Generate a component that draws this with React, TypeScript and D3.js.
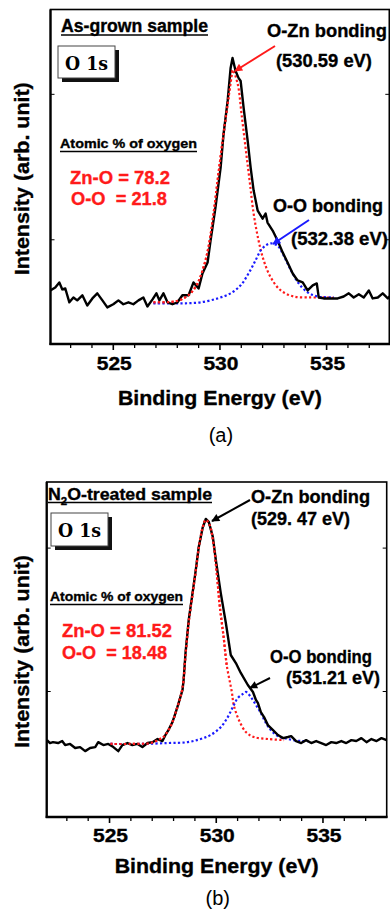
import React from 'react';
import * as d3 from 'd3';

// ---------- shared axis data ----------
const energyDomain: [number, number] = [522, 538];
const xMajorTicks = [525, 530, 535];
const xMinorTicks = [523, 524, 526, 527, 528, 529, 531, 532, 533, 534, 536, 537];
const xLabel = 'Binding Energy (eV)';
const yLabel = 'Intensity (arb. unit)';

// ---------- panel (a): as-grown ----------
const aMeasured: [number, number][] = [
  [522.05, 0.041], [522.28, 0.053], [522.47, 0.074], [522.61, 0.045], [522.75, 0.049],
  [522.94, -0.008], [523.13, 0.012], [523.31, 0.0], [523.55, 0.021], [523.78, -0.021],
  [524.02, 0.008], [524.25, 0.029], [524.49, 0.0], [524.72, -0.029], [525.0, -0.016],
  [525.24, 0.0], [525.47, -0.016], [525.71, -0.008], [525.94, -0.016], [526.18, 0.0],
  [526.41, 0.012], [526.6, -0.025], [526.84, 0.004], [527.02, 0.029], [527.16, 0.0],
  [527.35, 0.029], [527.54, -0.008], [527.77, -0.016], [528.01, -0.008], [528.24, 0.021],
  [528.53, 0.021], [528.76, 0.074], [529.0, 0.049], [529.18, 0.111], [529.42, 0.156],
  [529.56, 0.247], [529.79, 0.383], [530.03, 0.547], [530.17, 0.687], [530.36, 0.823],
  [530.5, 0.959], [530.59, 1.0], [530.73, 0.947], [530.87, 0.918], [530.97, 0.905],
  [531.11, 0.794], [531.3, 0.658], [531.44, 0.547], [531.58, 0.453], [531.77, 0.37],
  [532.0, 0.337], [532.14, 0.358], [532.23, 0.321], [532.47, 0.288], [532.7, 0.247],
  [532.94, 0.198], [533.17, 0.156], [533.41, 0.111], [533.64, 0.082], [533.88, 0.074],
  [534.11, 0.041], [534.35, 0.062], [534.54, 0.07], [534.63, 0.012], [534.86, 0.008],
  [535.19, 0.008], [535.52, 0.008], [535.8, 0.016], [536.04, 0.029], [536.27, 0.012],
  [536.51, 0.025], [536.74, 0.012], [536.98, 0.041], [537.16, 0.008], [537.4, 0.012],
  [537.63, 0.029], [537.87, 0.008], [538.0, 0.021],
];
const aZnOFit: [number, number][] = [
  [526.88, -0.008], [527.45, -0.008], [527.92, -0.004], [528.29, 0.008], [528.62, 0.029],
  [528.95, 0.07], [529.23, 0.136], [529.46, 0.218], [529.7, 0.358], [529.93, 0.523],
  [530.17, 0.687], [530.4, 0.835], [530.59, 0.95], [530.83, 0.893], [531.01, 0.77],
  [531.2, 0.63], [531.39, 0.494], [531.58, 0.358], [531.81, 0.247], [532.05, 0.165],
  [532.38, 0.095], [532.85, 0.041], [533.46, 0.016], [534.25, 0.012], [534.85, 0.012],
  [535.33, 0.01],
];
const aOOFit: [number, number][] = [
  [526.88, -0.012], [527.68, -0.012], [528.38, -0.012], [529.09, -0.008], [529.89, 0.008],
  [530.5, 0.029], [530.97, 0.062], [531.34, 0.111], [531.67, 0.165], [531.91, 0.206],
  [532.14, 0.226], [532.38, 0.235], [532.7, 0.226], [532.94, 0.193], [533.17, 0.152],
  [533.41, 0.111], [533.69, 0.07], [534.11, 0.033], [534.58, 0.016], [535.33, 0.012],
];
const aYTicks = [0.25, 0.85];

// ---------- panel (b): N2O-treated ----------
const bMeasured: [number, number][] = [
  [522.07, 0.013], [522.21, 0.0], [522.35, 0.004], [522.59, 0.0], [522.78, 0.009],
  [522.92, -0.009], [523.15, -0.004], [523.39, -0.022], [523.62, -0.018], [523.86, -0.036],
  [524.09, -0.022], [524.33, -0.018], [524.47, 0.004], [524.71, -0.009], [524.94, -0.004],
  [525.18, -0.018], [525.41, -0.036], [525.6, -0.009], [525.84, 0.0], [526.07, -0.009],
  [526.31, -0.004], [526.54, -0.018], [526.78, 0.0], [527.01, 0.004], [527.25, 0.018],
  [527.48, 0.009], [527.62, 0.036], [527.76, 0.058], [527.95, 0.094], [528.09, 0.134],
  [528.24, 0.179], [528.42, 0.237], [528.47, 0.281], [528.56, 0.402], [528.71, 0.549],
  [528.89, 0.67], [529.04, 0.772], [529.18, 0.875], [529.36, 0.96], [529.51, 1.0],
  [529.65, 0.987], [529.84, 0.92], [529.98, 0.817], [530.21, 0.67], [530.45, 0.536],
  [530.68, 0.393], [530.92, 0.357], [531.15, 0.313], [531.48, 0.259], [531.72, 0.228],
  [531.86, 0.192], [531.95, 0.179], [532.09, 0.138], [532.24, 0.116], [532.42, 0.08],
  [532.66, 0.058], [532.89, 0.036], [533.13, 0.022], [533.36, 0.027], [533.51, 0.031],
  [533.74, 0.009], [533.98, 0.0], [534.21, 0.013], [534.45, 0.0], [534.68, 0.009],
  [534.92, 0.0], [535.15, -0.009], [535.39, 0.004], [535.62, 0.0], [535.86, 0.009],
  [536.09, 0.0], [536.33, 0.013], [536.56, 0.009], [536.8, 0.022], [537.04, 0.004],
  [537.27, 0.018], [537.51, 0.009], [537.74, 0.022], [537.98, 0.013],
];
const bZnOFit: [number, number][] = [
  [525.04, -0.004], [525.98, -0.004], [526.92, 0.0], [527.25, 0.013], [527.53, 0.027],
  [527.76, 0.058], [527.95, 0.094], [528.09, 0.134], [528.24, 0.179], [528.42, 0.246],
  [528.56, 0.393], [528.71, 0.54], [528.89, 0.665], [529.04, 0.768], [529.18, 0.871],
  [529.36, 0.96], [529.51, 0.996], [529.69, 0.973], [529.88, 0.884], [530.02, 0.763],
  [530.16, 0.616], [530.35, 0.469], [530.49, 0.348], [530.73, 0.228], [530.82, 0.17],
  [531.06, 0.103], [531.39, 0.049], [531.76, 0.027], [532.42, 0.018], [533.18, 0.013],
];
const bOOFit: [number, number][] = [
  [525.04, -0.004], [526.45, -0.004], [527.72, 0.0], [528.66, 0.004], [529.27, 0.018],
  [529.74, 0.036], [530.21, 0.071], [530.54, 0.116], [530.78, 0.161], [531.01, 0.201],
  [531.25, 0.219], [531.39, 0.228], [531.62, 0.205], [531.86, 0.17], [532.09, 0.134],
  [532.33, 0.089], [532.56, 0.058], [532.89, 0.031], [533.36, 0.018], [533.98, 0.009],
  [534.31, 0.009],
];
const bYTicks = [0.23, 0.87];

const SANS = '"Liberation Sans", Arial, Helvetica, sans-serif';
const SERIF = '"DejaVu Serif", "Liberation Serif", serif';

type Txt = {
  t: string; x: number; y: number; size: number; len?: number; fill?: string;
  weight?: string; anchor?: 'start' | 'middle' | 'end'; under?: number; font?: string;
};

function Label({ t, x, y, size, len, fill = '#000', weight = 'bold', anchor = 'start', under, font = SANS }: Txt) {
  return (
    <g>
      <text x={x} y={y} fontSize={size} fontFamily={font} fontWeight={weight} fill={fill}
        stroke={fill} strokeWidth={0.35}
        textAnchor={anchor} textLength={len} lengthAdjust={len ? 'spacingAndGlyphs' : undefined}
        style={{ whiteSpace: 'pre' }}>{t}</text>
      {under !== undefined && len ? (
        <line x1={anchor === 'middle' ? x - len / 2 : x} x2={anchor === 'middle' ? x + len / 2 : x + len}
          y1={under} y2={under} stroke={fill} strokeWidth={1.7} />
      ) : null}
    </g>
  );
}

type PanelProps = {
  id: string;
  measured: [number, number][];
  fit1: [number, number][];
  fit2: [number, number][];
  xRange: [number, number];
  yDomain: [number, number];
  frame: { l: number; r: number; t: number; b: number };
  yTicks: number[];
  tickLabelY: number;
  xLabelY: number;
  yLabelX: number;
  letter: string;
  letterY: number;
  header: React.ReactNode;
  box: { x: number; y: number; w: number; h: number; ty: number };
  texts: Txt[];
  arrows: { x1: number; y1: number; x2: number; y2: number; color: string }[];
};

function Panel(p: PanelProps) {
  const x = d3.scaleLinear().domain(energyDomain).range(p.xRange);
  const y = d3.scaleLinear().domain(p.yDomain).range([p.frame.b, p.frame.t]);
  const line = d3.line<[number, number]>().x((d) => x(d[0])).y((d) => y(d[1]));
  const smooth = d3.line<[number, number]>().x((d) => x(d[0])).y((d) => y(d[1])).curve(d3.curveCatmullRom.alpha(0.5));
  const { l, r, t, b } = p.frame;
  const cx = (l + r) / 2;
  const cy = (t + b) / 2;
  const clipId = `clip-${p.id}`;
  return (
    <g>
      <defs>
        <clipPath id={clipId}><rect x={l} y={t} width={r - l} height={b - t} /></clipPath>
        {['#ff1a1a', '#1a1aff', '#000'].map((c, i) => (
          <marker key={c} id={`ah-${p.id}-${i}`} viewBox="0 0 10 10" refX={9} refY={5}
            markerWidth={9} markerHeight={8} markerUnits="userSpaceOnUse" orient="auto">
            <path d="M0,0 L10,5 L0,10 z" fill={c} />
          </marker>
        ))}
      </defs>
      <g clipPath={`url(#${clipId})`}>
        <path d={smooth(p.fit1) || ''} fill="none" stroke="#ff1a1a" strokeWidth={2.2} strokeDasharray="2.2 2.3" />
        <path d={smooth(p.fit2) || ''} fill="none" stroke="#1a1aff" strokeWidth={2.2} strokeDasharray="2.2 2.3" />
        <path d={line(p.measured) || ''} fill="none" stroke="#000" strokeWidth={2.4} strokeLinejoin="round" />
        <path d={smooth(p.fit1.filter((d) => d[0] < 530.6)) || ''} fill="none" stroke="#ff1a1a" strokeWidth={2.2} strokeDasharray="2.2 2.3" />
      </g>
      {/* frame */}
      <rect x={l} y={t} width={r - l} height={b - t} fill="none" stroke="#000" strokeWidth={1.6} />
      <line x1={l} x2={l} y1={t} y2={b + 1} stroke="#000" strokeWidth={2.2} />
      <line x1={l - 1} x2={r + 0.8} y1={b} y2={b} stroke="#000" strokeWidth={2.4} />
      {xMajorTicks.map((v) => (
        <line key={`M${v}`} x1={x(v)} x2={x(v)} y1={b} y2={b + 6} stroke="#000" strokeWidth={1.6} />
      ))}
      {xMinorTicks.map((v) => (
        <line key={`m${v}`} x1={x(v)} x2={x(v)} y1={b} y2={b + 4} stroke="#000" strokeWidth={1.3} />
      ))}
      {p.yTicks.map((v) => (
        <g key={`y${v}`}>
          <line x1={l} x2={l + 4} y1={y(v)} y2={y(v)} stroke="#000" strokeWidth={1} />
          <line x1={r} x2={r - 4} y1={y(v)} y2={y(v)} stroke="#000" strokeWidth={1} />
        </g>
      ))}
      {xMajorTicks.map((v) => (
        <text key={`L${v}`} x={x(v) + 1} y={p.tickLabelY} fontSize={18.5} fontFamily={SANS} fontWeight="bold"
          stroke="#000" strokeWidth={0.35}
          textAnchor="middle" textLength={35} lengthAdjust="spacingAndGlyphs">{v}</text>
      ))}
      <text x={cx} y={p.xLabelY} fontSize={21} fontFamily={SANS} fontWeight="bold" textAnchor="middle"
        stroke="#000" strokeWidth={0.35}
        textLength={204} lengthAdjust="spacingAndGlyphs">{xLabel}</text>
      <text transform={`translate(${p.yLabelX},${cy + 2}) rotate(-90)`} fontSize={21} fontFamily={SANS}
        stroke="#000" strokeWidth={0.35}
        fontWeight="bold" textAnchor="middle" textLength={193} lengthAdjust="spacingAndGlyphs">{yLabel}</text>
      <text x={cx + 1} y={p.letterY} fontSize={20} fontFamily={SANS} textAnchor="middle">{p.letter}</text>
      {p.header}
      {/* O 1s box */}
      <rect x={p.box.x + 4} y={p.box.y + 4} width={p.box.w} height={p.box.h} fill="#111" />
      <rect x={p.box.x} y={p.box.y} width={p.box.w} height={p.box.h} fill="#fff" stroke="#444" strokeWidth={1} />
      <text x={p.box.x + p.box.w / 2} y={p.box.ty} fontSize={18} fontFamily={SERIF} fontWeight="bold"
        textAnchor="middle" textLength={43} lengthAdjust="spacingAndGlyphs">O 1s</text>
      {p.texts.map((tx, i) => <Label key={i} {...tx} />)}
      {p.arrows.map((a, i) => {
        const mi = a.color === '#ff1a1a' ? 0 : a.color === '#1a1aff' ? 1 : 2;
        return (
          <line key={i} x1={a.x1} y1={a.y1} x2={a.x2} y2={a.y2} stroke={a.color} strokeWidth={2}
            markerEnd={`url(#ah-${p.id}-${mi})`} />
        );
      })}
    </g>
  );
}

export default function App() {
  const red = '#ff1a1a';
  return (
    <svg width={390} height={915} viewBox="0 0 390 915"
      style={{ position: 'absolute', left: 0, top: 0, background: '#fff', display: 'block' }}>
      <rect x={0} y={0} width={390} height={915} fill="#fff" />
      <Panel
        id="a"
        measured={aMeasured}
        fit1={aZnOFit}
        fit2={aOOFit}
        xRange={[49.3, 390.6]}
        yDomain={[-0.18, 1.2]}
        frame={{ l: 50.5, r: 389.3, t: 9.5, b: 344 }}
        yTicks={aYTicks}
        tickLabelY={370}
        xLabelY={405}
        yLabelX={29}
        letter="(a)"
        letterY={442}
        header={<Label t="As-grown sample" x={61} y={32} size={17.5} len={147} under={35} />}
        box={{ x: 58, y: 46, w: 57, h: 32, ty: 70 }}
        texts={[
          { t: 'Atomic % of oxygen', x: 60, y: 148, size: 13.5, len: 137, under: 151.5 },
          { t: 'Zn-O = 78.2', x: 70, y: 184, size: 19, len: 100, fill: red },
          { t: 'O-O  = 21.8', x: 71, y: 205, size: 19, len: 96, fill: red },
          { t: 'O-Zn bonding', x: 267, y: 37, size: 18.5, len: 120 },
          { t: '(530.59 eV)', x: 276, y: 67, size: 18.5, len: 96 },
          { t: 'O-O bonding', x: 273, y: 212, size: 18.5, len: 110 },
          { t: '(532.38 eV)', x: 291, y: 245, size: 18.5, len: 97 },
        ]}
        arrows={[
          { x1: 275, y1: 46, x2: 235, y2: 71, color: red },
          { x1: 309, y1: 220, x2: 273, y2: 244, color: '#1a1aff' },
        ]}
      />
      <Panel
        id="b"
        measured={bMeasured}
        fit1={bZnOFit}
        fit2={bOOFit}
        xRange={[45.5, 387]}
        yDomain={[-0.33, 1.165]}
        frame={{ l: 46.7, r: 386.7, t: 482, b: 817 }}
        yTicks={bYTicks}
        tickLabelY={842}
        xLabelY={873}
        yLabelX={29}
        letter="(b)"
        letterY={905}
        header={
          <g>
            <text x={48} y={500} fontSize={17} fontFamily={SANS} fontWeight="bold" stroke="#000" strokeWidth={0.35}
              textLength={164} lengthAdjust="spacingAndGlyphs">
              N<tspan fontSize={11} dy={5}>2</tspan><tspan dy={-5}>O-treated sample</tspan>
            </text>
            <line x1={48} x2={212} y1={502.5} y2={502.5} stroke="#000" strokeWidth={1.7} />
          </g>
        }
        box={{ x: 51, y: 513, w: 57, h: 33, ty: 537 }}
        texts={[
          { t: 'Atomic % of oxygen', x: 50, y: 601, size: 13.5, len: 133, under: 604.5 },
          { t: 'Zn-O = 81.52', x: 62, y: 637, size: 19, len: 110, fill: red },
          { t: 'O-O  = 18.48', x: 62, y: 659, size: 19, len: 105, fill: red },
          { t: 'O-Zn bonding', x: 251, y: 503, size: 18.5, len: 119 },
          { t: '(529. 47 eV)', x: 251, y: 525, size: 18.5, len: 99 },
          { t: 'O-O bonding', x: 270, y: 663, size: 18.5, len: 102 },
          { t: '(531.21 eV)', x: 286, y: 684, size: 18.5, len: 94 },
        ]}
        arrows={[
          { x1: 250, y1: 500, x2: 212, y2: 521, color: '#000' },
          { x1: 270, y1: 678, x2: 250, y2: 688, color: '#000' },
        ]}
      />
    </svg>
  );
}
